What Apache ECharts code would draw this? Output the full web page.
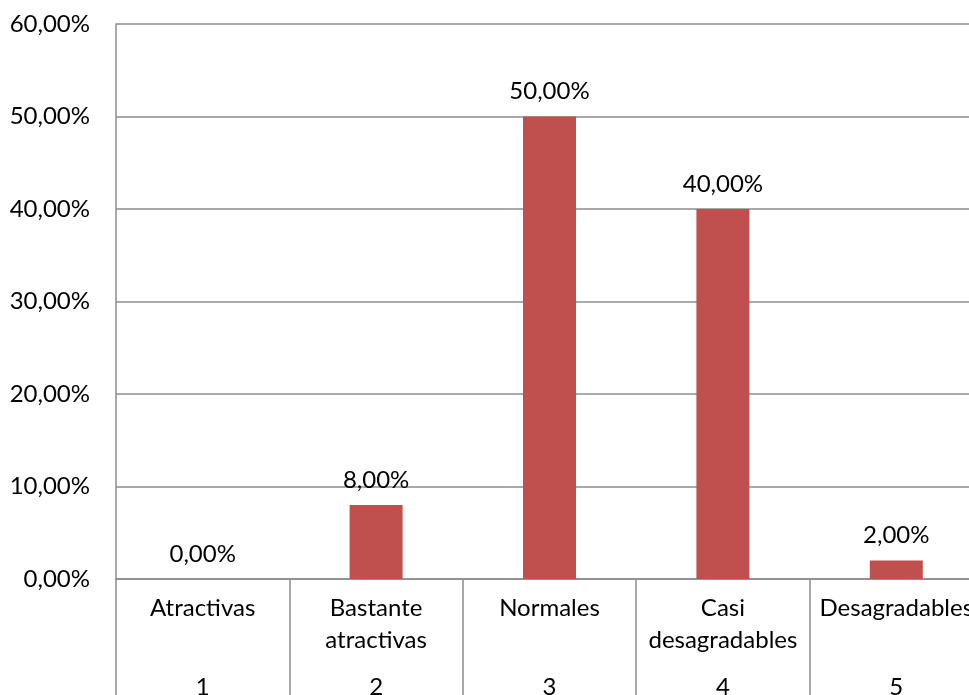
<!DOCTYPE html>
<html>
<head>
<meta charset="utf-8">
<script src="https://cdn.jsdelivr.net/npm/echarts@6/dist/echarts.min.js"></script>
<style>
  html, body { margin: 0; padding: 0; background: #ffffff; }
  #chart { width: 969px; height: 695px; }
</style>
</head>
<body>
<div id="chart"></div>
<script>
// Category names (first level) and their numeric codes (second level)
const categories = ['Atractivas', 'Bastante\natractivas', 'Normales', 'Casi\ndesagradables', 'Desagradables'];
const codes = ['1', '2', '3', '4', '5'];
// Share of responses, in percent
const values = [0, 8, 50, 40, 2];
// Value axis range, in percent
const yMin = 0, yMax = 60, yStep = 10;

const fmtPct = v => v.toFixed(2).replace('.', ',') + '%';
const FONT = 'Lato';
const FS = 24;
const GRID_COLOR = '#8c8c8c';

const chart = echarts.init(document.getElementById('chart'));
chart.setOption({
  animation: false,
  textStyle: { fontFamily: FONT },
  grid: {
    left: 116, top: 24, width: 867, height: 555,
    containLabel: false, outerBoundsMode: 'none'
  },
  xAxis: [
    {
      type: 'category',
      data: categories,
      position: 'bottom',
      axisLine: { show: true, lineStyle: { color: GRID_COLOR, width: 1.5 } },
      axisTick: { show: true, length: 120, lineStyle: { color: GRID_COLOR, width: 1.5 } },
      axisLabel: {
        interval: 0, margin: 13, color: '#000', fontFamily: FONT,
        fontSize: FS, lineHeight: 32
      }
    },
    {
      type: 'category',
      data: codes,
      position: 'bottom',
      axisLine: { show: false },
      axisTick: { show: false },
      axisLabel: {
        interval: 0, margin: 92, color: '#000', fontFamily: FONT,
        fontSize: FS, lineHeight: 32
      }
    }
  ],
  yAxis: {
    type: 'value',
    min: yMin, max: yMax, interval: yStep,
    axisLine: { show: true, lineStyle: { color: GRID_COLOR, width: 1.5 } },
    axisTick: { show: false },
    splitLine: { show: true, lineStyle: { color: GRID_COLOR, width: 1.5 } },
    axisLabel: {
      margin: 26, color: '#000', fontFamily: FONT, fontSize: FS,
      formatter: v => fmtPct(v)
    }
  },
  series: [{
    type: 'bar',
    xAxisIndex: 0,
    data: values,
    barWidth: 53,
    itemStyle: { color: '#C0504D' },
    label: {
      show: true, position: 'top', distance: 13,
      color: '#000', fontFamily: FONT, fontSize: FS,
      formatter: p => fmtPct(p.value)
    }
  }]
});
</script>
</body>
</html>
